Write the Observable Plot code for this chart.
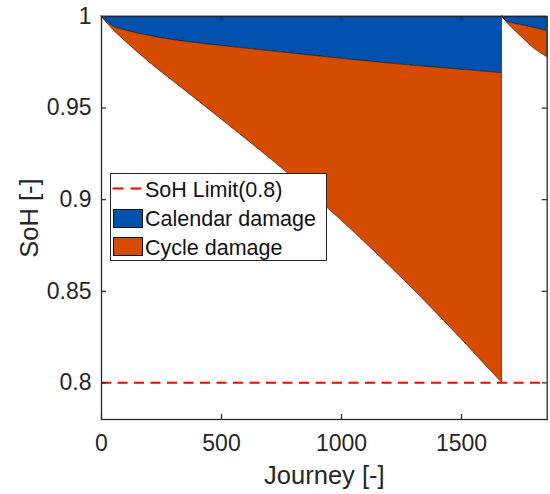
<!DOCTYPE html>
<html><head><meta charset="utf-8">
<script src="https://cdn.jsdelivr.net/npm/d3@7"></script>
<script src="https://cdn.jsdelivr.net/npm/@observablehq/plot@0.6"></script>
<style>
body{margin:0;background:#fff;}
#wrap{position:relative;width:550px;height:494px;font-family:"Liberation Sans",Arial,sans-serif;}
#legend{position:absolute;left:110px;top:173px;}
</style></head><body><div id="wrap"></div>
<script>
// ---- data ----
const fullSoH = 1;
const sohLimit = 0.8;
// first life (journeys 0 .. 1669)
const journey1  = [0, 50, 100, 200, 300, 400, 500, 600, 700, 800, 900, 1000, 1100, 1200, 1300, 1400, 1500, 1600, 1669];
const calendar1 = [1, 0.9945, 0.9924, 0.9894, 0.9871, 0.9854, 0.9839, 0.9825, 0.9811, 0.9797, 0.9783, 0.9769, 0.9756, 0.9743, 0.9731, 0.9720, 0.9709, 0.9698, 0.9690];
const total1    = [1, 0.9925, 0.9864, 0.9749, 0.9645, 0.9542, 0.9438, 0.9333, 0.9227, 0.9118, 0.9004, 0.8886, 0.8764, 0.8638, 0.8509, 0.8375, 0.8238, 0.8096, 0.8000];
// second life (journeys 1670 .. 1857)
const journey2  = [1670, 1690, 1720, 1760, 1800, 1857];
const calendar2 = [1, 0.9972, 0.9961, 0.9950, 0.9938, 0.9920];
const total2    = [1, 0.9966, 0.9926, 0.9876, 0.9828, 0.9778];

const xTicks = [0, 500, 1000, 1500];
const xTickLabels = ["0", "500", "1000", "1500"];
const yTicks = [0.8, 0.85, 0.9, 0.95, 1];
const yTickLabels = ["0.8", "0.85", "0.9", "0.95", "1"];

const legendLabels = ["SoH Limit(0.8)", "Calendar damage", "Cycle damage"];

const rows = [];
journey1.forEach((j, i) => rows.push({seg: 1, journey: j, cal: calendar1[i], total: total1[i]}));
journey2.forEach((j, i) => rows.push({seg: 2, journey: j, cal: calendar2[i], total: total2[i]}));

const blue = "#0051ad";
const orange = "#d54c00";
const ink = "#262626";

const W = 550, H = 494, mL = 101, mT = 16, mR = 3.3, mB = 75;
const innerW = W - mL - mR, innerH = H - mT - mB;
const tk = 5;

const plot = Plot.plot({
  width: W, height: H,
  marginLeft: mL, marginTop: mT, marginRight: mR, marginBottom: mB,
  x: {domain: [0, 1857], axis: null},
  y: {domain: [0.78, 1], axis: null},
  style: {fontFamily: "'Liberation Sans', Arial, sans-serif", color: ink, background: "white", overflow: "visible"},
  marks: [
    Plot.areaY(rows, {x: "journey", y1: "cal", y2: fullSoH, z: "seg", curve: "monotone-x", fill: blue, stroke: "#1a1a1a", strokeWidth: 0.6}),
    Plot.areaY(rows, {x: "journey", y1: "total", y2: "cal", z: "seg", curve: "monotone-x", fill: orange, stroke: "#1a1a1a", strokeWidth: 0.6}),
    Plot.ruleY([sohLimit], {stroke: "#ff0000", strokeWidth: 2, strokeDasharray: "10,6.5"}),
    Plot.frame({stroke: ink, strokeWidth: 1.3}),
    Plot.tickX(xTicks, {x: d => d, insetTop: innerH - tk, stroke: ink, strokeWidth: 1.2}),
    Plot.tickX(xTicks, {x: d => d, insetBottom: innerH - tk, stroke: ink, strokeWidth: 1.2}),
    Plot.tickY(yTicks, {y: d => d, insetRight: innerW - tk, stroke: ink, strokeWidth: 1.2}),
    Plot.tickY(yTicks, {y: d => d, insetLeft: innerW - tk, stroke: ink, strokeWidth: 1.2}),
    Plot.axisX({anchor: "bottom", ticks: xTicks, tickFormat: d => xTickLabels[xTicks.indexOf(d)], tickSize: 0, tickPadding: 15, fontSize: 23, label: null}),
    Plot.axisY({anchor: "left", ticks: yTicks, tickFormat: d => yTickLabels[yTicks.indexOf(d)], tickSize: 0, tickPadding: 10, fontSize: 23, label: null}),
    Plot.text(["Journey [-]"], {text: d => d, frameAnchor: "bottom", dy: 64, lineAnchor: "bottom", fontSize: 25.5, fill: ink}),
    Plot.text(["SoH [-]"], {text: d => d, frameAnchor: "left", dx: -64, rotate: -90, textAnchor: "middle", lineAnchor: "bottom", fontSize: 25.5, fill: ink})
  ]
});
const wrap = document.getElementById("wrap");
wrap.appendChild(plot);

// legend overlay (inside the axes, like the original)
const ns = "http://www.w3.org/2000/svg";
const lg = document.createElementNS(ns, "svg");
lg.setAttribute("id", "legend");
lg.setAttribute("width", 218);
lg.setAttribute("height", 89);
lg.innerHTML = `
  <rect x="0.5" y="0.5" width="216" height="87" fill="white" stroke="${ink}" stroke-width="1"/>
  <line x1="2.5" x2="33.5" y1="15.5" y2="15.5" stroke="#ff0000" stroke-width="2" stroke-dasharray="11,7"/>
  <rect x="3.5" y="36.5" width="29" height="18" fill="${blue}" stroke="#111" stroke-width="1"/>
  <rect x="3.5" y="64.5" width="29" height="18" fill="${orange}" stroke="#111" stroke-width="1"/>
  <g font-family="'Liberation Sans', Arial, sans-serif" font-size="21.5" fill="#111">
    <text x="35" y="23.5">${legendLabels[0]}</text>
    <text x="35" y="53.2">${legendLabels[1]}</text>
    <text x="35" y="81.5">${legendLabels[2]}</text>
  </g>`;
wrap.appendChild(lg);
</script></body></html>
